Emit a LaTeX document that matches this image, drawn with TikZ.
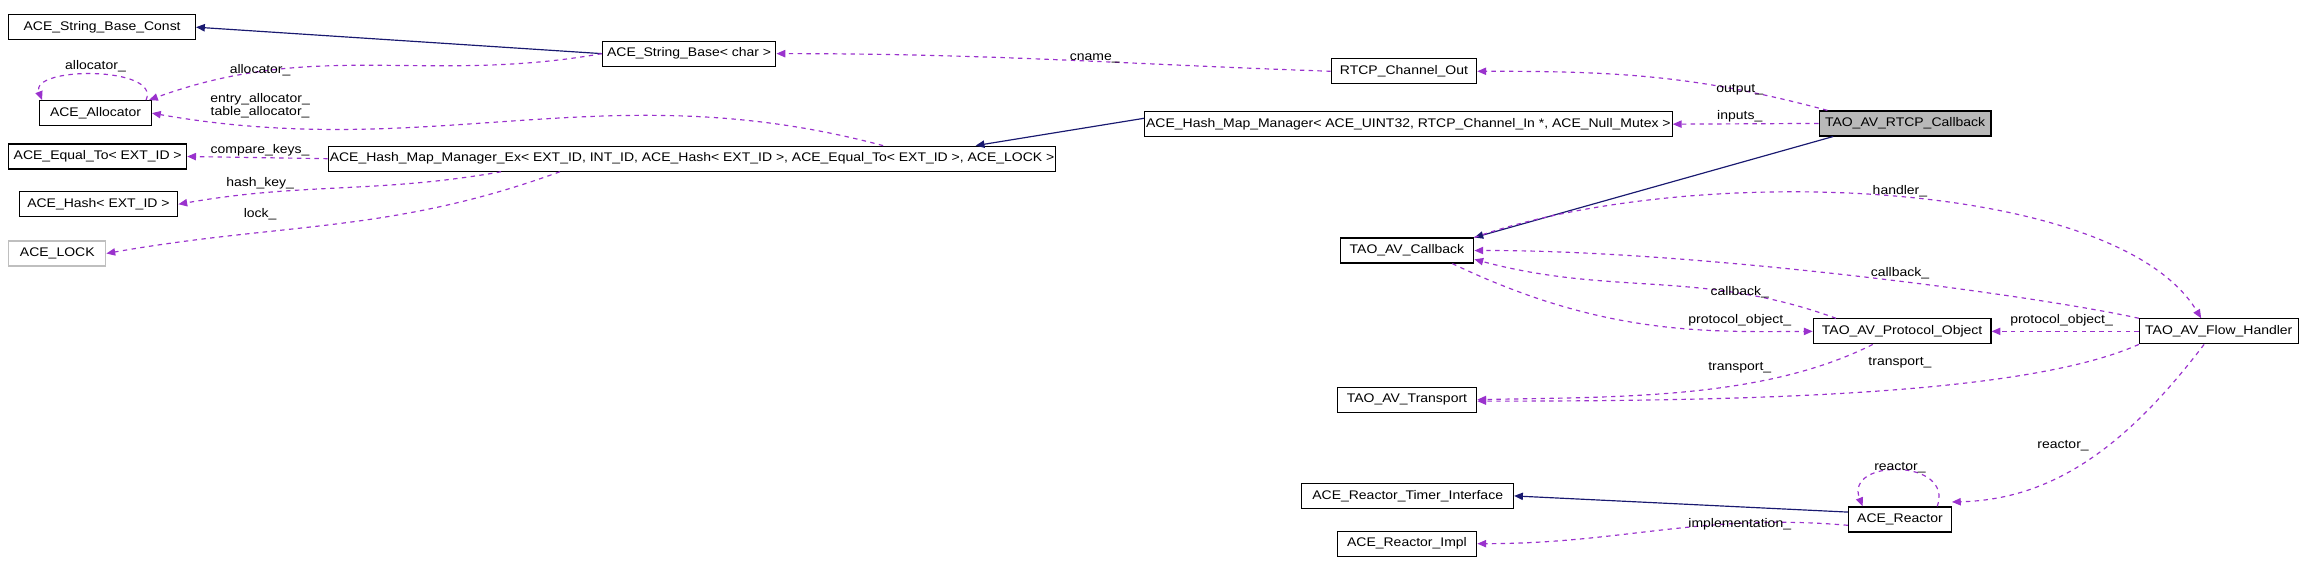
\documentclass[tikz,border=0pt]{standalone}
\usepackage{fontspec}
\setmainfont{Liberation Sans}[FakeStretch=1.12]
\usetikzlibrary{arrows.meta}
\definecolor{inheritBlue}{HTML}{191970}
\definecolor{usePurple}{HTML}{9A32CD}

\begin{document}
\begin{tikzpicture}[
    x=1pt, y=-1pt,
    % --- node styles ---
    cls/.style={draw=black, thick, minimum height=17pt, inner sep=1pt,
        font=\fontsize{8.5}{10}\selectfont},
    main/.style={cls, fill=gray!55},
    faint/.style={cls, draw=gray!50},
    % --- connector styles ---
    inherit/.style={draw=inheritBlue, thick, -{Triangle[length=6pt,width=5pt]}},
    uses/.style={draw=usePurple, thick, dashed, -{Triangle[length=6pt,width=5pt]}},
    lbl/.style={font=\fontsize{8.5}{9}\selectfont, inner sep=0pt, align=center}
]
    \useasboundingbox (0,0) rectangle (1568,389);

    % --- left column ---
    \node (strConst) [cls, minimum width=127pt] at (69.5,18.5) {ACE\_String\_Base\_Const};
    \node (alloc) [cls, minimum width=76pt] at (65,77) {ACE\_Allocator};
    \node (equalTo) [cls, minimum width=121pt] at (66.5,106.5) {ACE\_Equal\_To< EXT\_ID >};
    \node (hash) [cls, minimum width=108pt] at (67,139) {ACE\_Hash< EXT\_ID >};
    \node (lock) [faint, minimum width=66pt] at (39,172.5) {ACE\_LOCK};

    % --- middle ---
    \node (strBase) [cls, minimum width=118pt] at (469,36.5) {ACE\_String\_Base< char >};
    \node (mapEx) [cls, minimum width=484pt] at (471,108) {ACE\_Hash\_Map\_Manager\_Ex< EXT\_ID, INT\_ID, ACE\_Hash< EXT\_ID >, ACE\_Equal\_To< EXT\_ID >, ACE\_LOCK >};
    \node (chanOut) [cls, minimum width=99pt] at (955.5,48.5) {RTCP\_Channel\_Out};
    \node (mapMgr) [cls, minimum width=359pt] at (958.5,84.5) {ACE\_Hash\_Map\_Manager< ACE\_UINT32, RTCP\_Channel\_In *, ACE\_Null\_Mutex >};
    \node (callback) [cls, minimum width=91pt] at (957.5,170.5) {TAO\_AV\_Callback};
    \node (transport) [cls, minimum width=95pt] at (957.5,272) {TAO\_AV\_Transport};
    \node (timerIf) [cls, minimum width=144pt] at (958,337.5) {ACE\_Reactor\_Timer\_Interface};
    \node (reactImpl) [cls, minimum width=95pt] at (957.5,370) {ACE\_Reactor\_Impl};

    % --- right ---
    \node (rtcpCb) [main, minimum width=117pt] at (1296.5,84) {TAO\_AV\_RTCP\_Callback};
    \node (protoObj) [cls, minimum width=121pt] at (1294.5,225.5) {TAO\_AV\_Protocol\_Object};
    \node (flowH) [cls, minimum width=108pt] at (1510,225.5) {TAO\_AV\_Flow\_Handler};
    \node (reactor) [cls, minimum width=70pt] at (1293,353.5) {ACE\_Reactor};

    % --- inheritance ---
    \draw [inherit] (strBase.west) -- (strConst.east);
    \draw [inherit] ([yshift=4pt]mapMgr.west) -- ([xshift=-55pt]mapEx.north east);
    \draw [inherit] ([xshift=10pt]rtcpCb.south west) -- (callback.north east);
    \draw [inherit] ([yshift=5pt]reactor.west) -- (timerIf.east);

    % --- members ---
    \draw [uses] (strBase.west) to[out=190,in=20] ([xshift=-2pt]alloc.north east) node [lbl, at={(177,48)}] {allocator\_};
    \draw [uses] ([xshift=-4pt]alloc.north east) .. controls (110,45) and (20,45) .. ([xshift=2pt]alloc.north west) node [lbl, at={(65,45)}] {allocator\_};
    \draw [uses] ([xshift=130pt]mapEx.north) to[out=165,in=-10] (alloc.east) node [lbl, at={(177,72)}] {entry\_allocator\_\\table\_allocator\_};
    \draw [uses] (mapEx.west) -- (equalTo.east) node [lbl, at={(177,102)}] {compare\_keys\_};
    \draw [uses] ([xshift=-130pt]mapEx.south) to[out=190,in=10] (hash.east) node [lbl, at={(177,125)}] {hash\_key\_};
    \draw [uses] ([xshift=-90pt]mapEx.south) to[out=200,in=10] (lock.east) node [lbl, at={(177,146)}] {lock\_};
    \draw [uses] (chanOut.west) to[out=178,in=0] (strBase.east) node [lbl, at={(745,40)}] {cname\_};
    \draw [uses] ([xshift=6pt]rtcpCb.north west) to[out=165,in=0] (chanOut.east) node [lbl, at={(1184,61)}] {output\_};
    \draw [uses] (rtcpCb.west) -- (mapMgr.east) node [lbl, at={(1184,79)}] {inputs\_};
    \draw [uses] (callback.north east) .. controls (1150,110) and (1440,120) .. ([xshift=-12pt]flowH.north) node [lbl, at={(1293,130)}] {handler\_};
    \draw [uses] (flowH.north west) .. controls (1380,200) and (1150,170) .. (callback.east) node [lbl, at={(1293,186)}] {callback\_};
    \draw [uses] ([xshift=-45pt]protoObj.north) to[out=160,in=-15] ([yshift=-6pt]callback.east) node [lbl, at={(1184,199)}] {callback\_};
    \draw [uses] ([xshift=-15pt]callback.south east) .. controls (1090,228) and (1160,226) .. (protoObj.west) node [lbl, at={(1184,218)}] {protocol\_object\_};
    \draw [uses] (flowH.west) -- (protoObj.east) node [lbl, at={(1403,218)}] {protocol\_object\_};
    \draw [uses] ([xshift=-20pt]protoObj.south) .. controls (1200,272) and (1100,270) .. (transport.east) node [lbl, at={(1184,250)}] {transport\_};
    \draw [uses] (flowH.south west) .. controls (1380,268) and (1200,273) .. ([yshift=-1pt]transport.east) node [lbl, at={(1293,247)}] {transport\_};
    \draw [uses] ([xshift=-10pt]flowH.south) .. controls (1450,300) and (1400,340) .. ([yshift=3pt]reactor.north east) node [lbl, at={(1404,303)}] {reactor\_};
    \draw [uses] ([xshift=-10pt]reactor.north east) .. controls (1330,312) and (1255,312) .. ([xshift=10pt]reactor.north west) node [lbl, at={(1293,318)}] {reactor\_};
    \draw [uses] ([yshift=-4pt]reactor.west) to[out=175,in=0] (reactImpl.east) node [lbl, at={(1184,357)}] {implementation\_};
\end{tikzpicture}
\end{document}
